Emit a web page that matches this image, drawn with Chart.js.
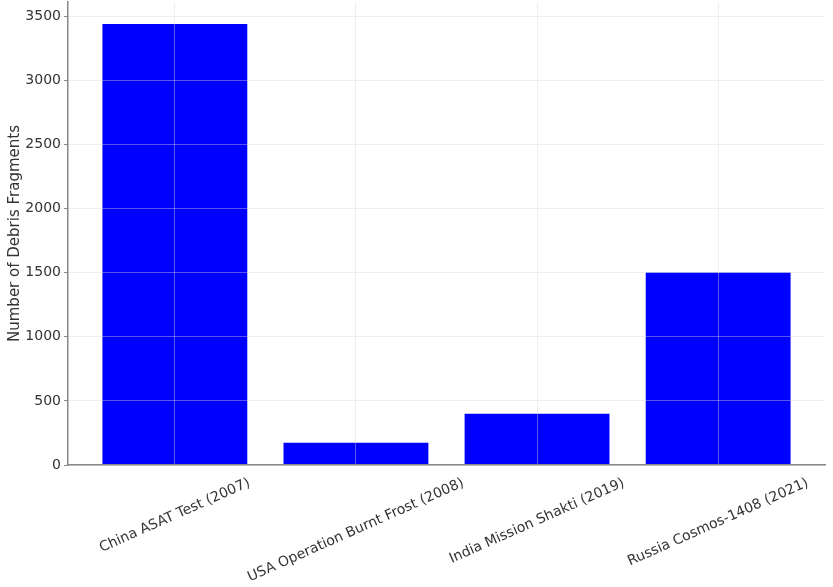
<!DOCTYPE html>
<html>
<head>
<meta charset="utf-8">
<script src="https://cdn.jsdelivr.net/npm/chart.js@4"></script>
<style>
  html, body { margin: 0; padding: 0; background: #fff; }
  #wrap { width: 833px; height: 587px; }
</style>
</head>
<body>
<div id="wrap"><canvas id="chart" width="833" height="587"></canvas></div>
<script>
const events = ['China ASAT Test (2007)', 'USA Operation Burnt Frost (2008)', 'India Mission Shakti (2019)', 'Russia Cosmos-1408 (2021)'];
const fragments = [3438, 174, 400, 1500];
const yTicks = [0, 500, 1000, 1500, 2000, 2500, 3000, 3500];

const FONT = '"DejaVu Sans", sans-serif';
const labelAngle = 24; // degrees
const gridColor = 'rgba(215,215,215,0.4)';

// draws the x labels like matplotlib does: rotated round their own centre
const rotatedLabels = {
    id: 'rotatedLabels',
    afterDraw(chart) {
        const ctx = chart.ctx;
        const xs = chart.scales.x;
        const top = chart.chartArea.bottom + 11;
        const a = labelAngle * Math.PI / 180;
        ctx.save();
        ctx.font = '14px ' + FONT;
        ctx.fillStyle = '#333';
        ctx.textAlign = 'center';
        ctx.textBaseline = 'middle';
        events.forEach((label, i) => {
            const w = ctx.measureText(label).width;
            const h = 14;
            const boxH = w * Math.sin(a) + h * Math.cos(a);
            ctx.save();
            ctx.translate(xs.getPixelForValue(i), top + boxH / 2);
            ctx.rotate(-a);
            ctx.fillText(label, 0, 0);
            ctx.restore();
        });
        ctx.restore();
    }
};

new Chart(document.getElementById('chart'), {
    type: 'bar',
    data: {
        datasets: [{
            label: 'Debris Fragments',
            data: fragments.map((v, i) => ({ x: i, y: v })),
            backgroundColor: '#0000ff',
            borderWidth: 0,
            barPercentage: 0.8,
            categoryPercentage: 1
        }]
    },
    options: {
        responsive: false,
        animation: false,
        layout: { padding: { left: 0, right: 8, top: 2, bottom: 0 } },
        plugins: { legend: { display: false }, tooltip: { enabled: false } },
        scales: {
            x: {
                type: 'linear',
                offset: false,
                min: -0.59,
                max: 3.59,
                afterBuildTicks: (scale) => { scale.ticks = events.map((_, i) => ({ value: i })); },
                afterFit: (scale) => { scale.height = 122; scale.paddingLeft = 0; scale.paddingRight = 0; },
                ticks: { display: false },
                grid: { z: 1, offset: false, color: gridColor, lineWidth: 1, drawTicks: false },
                border: { z: 2, color: '#888', width: 1.5 }
            },
            y: {
                min: 0,
                max: 3610,
                afterBuildTicks: (scale) => { scale.ticks = yTicks.map(v => ({ value: v })); },
                afterFit: (scale) => { scale.width = 68; scale.paddingTop = 0; scale.paddingBottom = 0; },
                ticks: {
                    font: { family: FONT, size: 14 },
                    color: '#333',
                    padding: 3,
                    callback: (v) => String(v)
                },
                grid: {
                    z: 1,
                    color: gridColor,
                    lineWidth: 1,
                    drawTicks: true,
                    tickLength: 4,
                    tickColor: '#888'
                },
                border: { z: 2, color: '#888', width: 1.5 },
                title: {
                    display: true,
                    text: 'Number of Debris Fragments',
                    font: { family: FONT, size: 15 },
                    color: '#333',
                    padding: { top: 6, bottom: 4 }
                }
            }
        }
    },
    plugins: [rotatedLabels]
});
</script>
</body>
</html>
